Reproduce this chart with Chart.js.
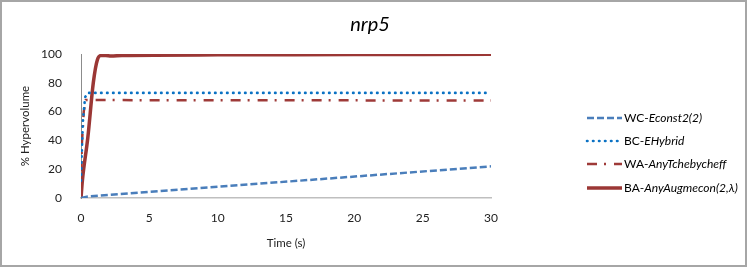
<!DOCTYPE html>
<html>
<head>
<meta charset="utf-8">
<script src="https://cdn.jsdelivr.net/npm/chart.js@4/dist/chart.umd.min.js"></script>
<style>
  body { margin: 0; background: #fff; }
  #wrap { width: 747px; height: 267px; }
</style>
</head>
<body>
<div id="wrap"><canvas id="chart" width="747" height="267"></canvas></div>
<script>
// Data (time in s, % hypervolume)
const xTicks = [0, 5, 10, 15, 20, 25, 30];
const yTicks = [0, 20, 40, 60, 80, 100];

const wcTime = [0, 0.5, 30];
const wcHv   = [0, 1, 22];

const bcTime = [0, 0.05, 0.15, 0.3, 0.5, 30];
const bcHv   = [12, 30, 55, 70, 73, 73];

const waTime = [0, 0.05, 0.2, 0.35, 30];
const waHv   = [0, 35, 60, 68, 67.7];

const baTime = [0, 0.1, 0.5, 0.9, 1.2, 1.5, 1.8, 2.2, 3, 10, 20, 30];
const baHv   = [0, 12, 42, 80, 96, 99, 99, 98.6, 99, 99.4, 99.6, 99.8];

const legendPrefix = ['WC-', 'BC-', 'WA-', 'BA-'];
const legendSuffix = ['Econst2(2)', 'EHybrid', 'AnyTchebycheff', 'AnyAugmecon(2,λ)'];

const FONT = 'Lato, "Open Sans", sans-serif';

const pts = (xs, ys) => xs.map((x, i) => ({ x: x, y: ys[i] }));

// Frame, title and legend (legend needs mixed regular/italic text)
const decor = {
  id: 'decor',
  beforeDraw(chart) {
    const ctx = chart.ctx;
    ctx.save();
    ctx.fillStyle = '#fff';
    ctx.fillRect(0, 0, chart.width, chart.height);
    ctx.restore();
  },
  afterDraw(chart) {
    const ctx = chart.ctx;
    ctx.save();
    ctx.strokeStyle = '#a6a6a6';
    ctx.lineWidth = 2;
    ctx.strokeRect(1, 1, chart.width - 2, chart.height - 2);

    ctx.fillStyle = '#000';
    ctx.font = 'italic 20px ' + FONT;
    ctx.textAlign = 'center';
    ctx.textBaseline = 'middle';
    ctx.fillText('nrp5', 370, 25);

    const rows = [118, 141, 164, 188];
    chart.data.datasets.forEach((ds, i) => {
      const y = rows[i];
      ctx.beginPath();
      ctx.strokeStyle = ds.borderColor;
      ctx.lineWidth = ds.borderWidth;
      ctx.lineCap = ds.borderCapStyle || 'butt';
      ctx.setLineDash(ds.borderDash || []);
      ctx.moveTo(587, y);
      ctx.lineTo(622, y);
      ctx.stroke();
      ctx.setLineDash([]);

      ctx.fillStyle = '#000';
      ctx.textAlign = 'left';
      ctx.textBaseline = 'middle';
      ctx.font = '12px ' + FONT;
      ctx.fillText(legendPrefix[i], 624, y);
      const w = ctx.measureText(legendPrefix[i]).width;
      ctx.font = 'italic 12px ' + FONT;
      ctx.fillText(legendSuffix[i], 624 + w, y);
    });
    ctx.restore();
  }
};

new Chart(document.getElementById('chart'), {
  type: 'line',
  data: {
    datasets: [
      {
        label: legendPrefix[0] + legendSuffix[0],
        data: pts(wcTime, wcHv),
        borderColor: '#4a7ebb',
        borderWidth: 2.5,
        borderDash: [7, 3]
      },
      {
        label: legendPrefix[1] + legendSuffix[1],
        data: pts(bcTime, bcHv),
        borderColor: '#0b72c4',
        borderWidth: 2.6,
        borderDash: [0.5, 5.5],
        borderCapStyle: 'round'
      },
      {
        label: legendPrefix[2] + legendSuffix[2],
        data: pts(waTime, waHv),
        borderColor: '#9e3a38',
        borderWidth: 2.5,
        borderDash: [10, 7, 2, 8]
      },
      {
        label: legendPrefix[3] + legendSuffix[3],
        data: pts(baTime, baHv),
        borderColor: '#9b3735',
        borderWidth: 3.5,
        cubicInterpolationMode: 'monotone'
      }
    ]
  },
  options: {
    responsive: false,
    animation: false,
    layout: { padding: { top: 54, right: 256, left: 0, bottom: 0 } },
    elements: { point: { radius: 0 }, line: { fill: false } },
    plugins: {
      legend: { display: false },
      title: { display: false },
      tooltip: { enabled: false }
    },
    scales: {
      x: {
        type: 'linear',
        min: 0,
        max: 30,
        afterFit(s) { s.height = 69; },
        afterBuildTicks(s) { s.ticks = xTicks.map(v => ({ value: v })); },
        grid: { display: false, drawTicks: false },
        border: { display: true, color: '#bfbfbf', width: 1.5 },
        ticks: { color: '#222', font: { family: FONT, size: 12 }, padding: 13 },
        title: {
          display: true,
          text: 'Time (s)',
          color: '#222',
          font: { family: FONT, size: 11.5 },
          padding: { top: 0, bottom: 17 }
        }
      },
      y: {
        type: 'linear',
        min: 0,
        max: 100,
        afterFit(s) { s.width = 81; },
        afterBuildTicks(s) { s.ticks = yTicks.map(v => ({ value: v })); },
        grid: { display: false, drawTicks: false },
        border: { display: true, color: '#8c8c8c', width: 1, dash: [1, 2] },
        ticks: { color: '#222', font: { family: FONT, size: 12 }, padding: 19 },
        title: {
          display: true,
          text: '% Hypervolume',
          color: '#222',
          font: { family: FONT, size: 11.5 },
          padding: { top: 18, bottom: 0 }
        }
      }
    }
  },
  plugins: [decor]
});
</script>
</body>
</html>
